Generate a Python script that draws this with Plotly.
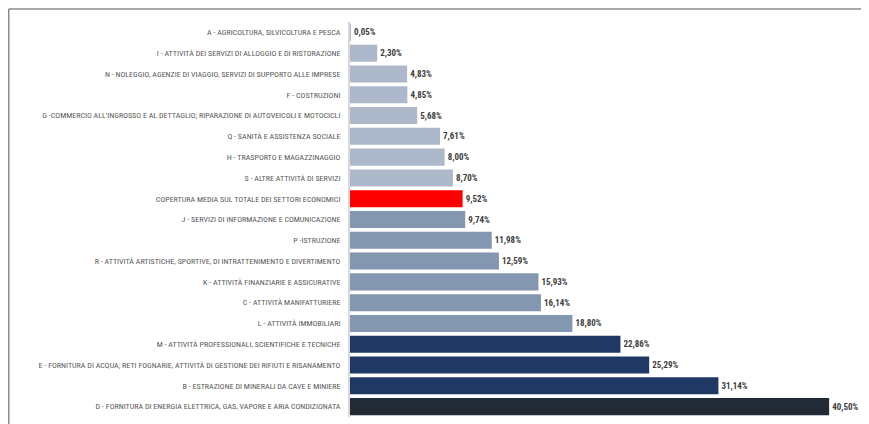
import plotly.graph_objects as go

# Settori economici (dall'alto verso il basso)
settori = [
    "A - AGRICOLTURA, SILVICOLTURA E PESCA",
    "I - ATTIVITÀ DEI SERVIZI DI ALLOGGIO E DI RISTORAZIONE",
    "N - NOLEGGIO, AGENZIE DI VIAGGIO, SERVIZI DI SUPPORTO ALLE IMPRESE",
    "F - COSTRUZIONI",
    "G -COMMERCIO ALL'INGROSSO E AL DETTAGLIO; RIPARAZIONE DI AUTOVEICOLI E MOTOCICLI",
    "Q - SANITÀ E ASSISTENZA SOCIALE",
    "H - TRASPORTO E MAGAZZINAGGIO",
    "S - ALTRE ATTIVITÀ DI SERVIZI",
    "COPERTURA MEDIA SUL TOTALE DEI SETTORI ECONOMICI",
    "J - SERVIZI DI INFORMAZIONE E COMUNICAZIONE",
    "P -ISTRUZIONE",
    "R - ATTIVITÀ ARTISTICHE, SPORTIVE, DI INTRATTENIMENTO E DIVERTIMENTO",
    "K - ATTIVITÀ FINANZIARIE E ASSICURATIVE",
    "C - ATTIVITÀ MANIFATTURIERE",
    "L - ATTIVITÀ IMMOBILIARI",
    "M - ATTIVITÀ PROFESSIONALI, SCIENTIFICHE E TECNICHE",
    "E - FORNITURA DI ACQUA; RETI FOGNARIE, ATTIVITÀ DI GESTIONE DEI RIFIUTI E RISANAMENTO",
    "B - ESTRAZIONE DI MINERALI DA CAVE E MINIERE",
    "D - FORNITURA DI ENERGIA ELETTRICA, GAS, VAPORE E ARIA CONDIZIONATA",
]
copertura = [0.05, 2.30, 4.83, 4.85, 5.68, 7.61, 8.00, 8.70, 9.52, 9.74,
             11.98, 12.59, 15.93, 16.14, 18.80, 22.86, 25.29, 31.14, 40.50]
gruppo = ["chiaro"] * 8 + ["media"] + ["medio"] * 6 + ["scuro"] * 3 + ["nero"]

colori = {"chiaro": "#adb9ca", "media": "#ff0000", "medio": "#8497b0",
          "scuro": "#203864", "nero": "#222a35"}
etichette = [f"{v:.2f}%".replace(".", ",") for v in copertura]

FONT = "Liberation Sans Narrow, Arial Narrow, Roboto Condensed, Roboto, sans-serif"

fig = go.Figure(go.Bar(
    x=copertura, y=settori, orientation="h",
    marker=dict(color=[colori[g] for g in gruppo], line_width=0),
    text=etichette, textposition="outside", cliponaxis=False,
    textfont=dict(family=FONT, size=9, color="#404040", weight="bold"),
))

# la pagina ha 8px di margine: la figura parte da (8, 8)
W, H = 861, 416
ML, MR, MT, MB = 342, 0, 14, 7
pw, ph = W - ML - MR, H - MT - MB

fig.update_layout(
    width=W, height=H,
    margin=dict(l=ML, r=MR, t=MT, b=MB),
    paper_bgcolor="white", plot_bgcolor="white",
    bargap=0.18, showlegend=False,
    font=dict(family=FONT, size=8, color="#595959"),
    xaxis=dict(range=[0, 43.87], visible=False, fixedrange=True),
    yaxis=dict(autorange="reversed", showline=True, linecolor="#d9d9d9",
               linewidth=2, ticks="", ticklabelstandoff=6, showgrid=False,
               tickfont=dict(family=FONT, size=8, color="#595959")),
    shapes=[
        # cornice esterna (alto e sinistra)
        dict(type="line", xref="paper", yref="paper",
             x0=(0.75 - ML) / pw, x1=1.0,
             y0=(H - 1 - MB) / ph, y1=(H - 1 - MB) / ph,
             line=dict(color="#8c8c8c", width=1.5)),
        dict(type="line", xref="paper", yref="paper",
             x0=(0.75 - ML) / pw, x1=(0.75 - ML) / pw,
             y0=(H - 1 - MB) / ph, y1=-MB / ph,
             line=dict(color="#8c8c8c", width=1.5)),
    ],
)

fig.write_html("out.html")
